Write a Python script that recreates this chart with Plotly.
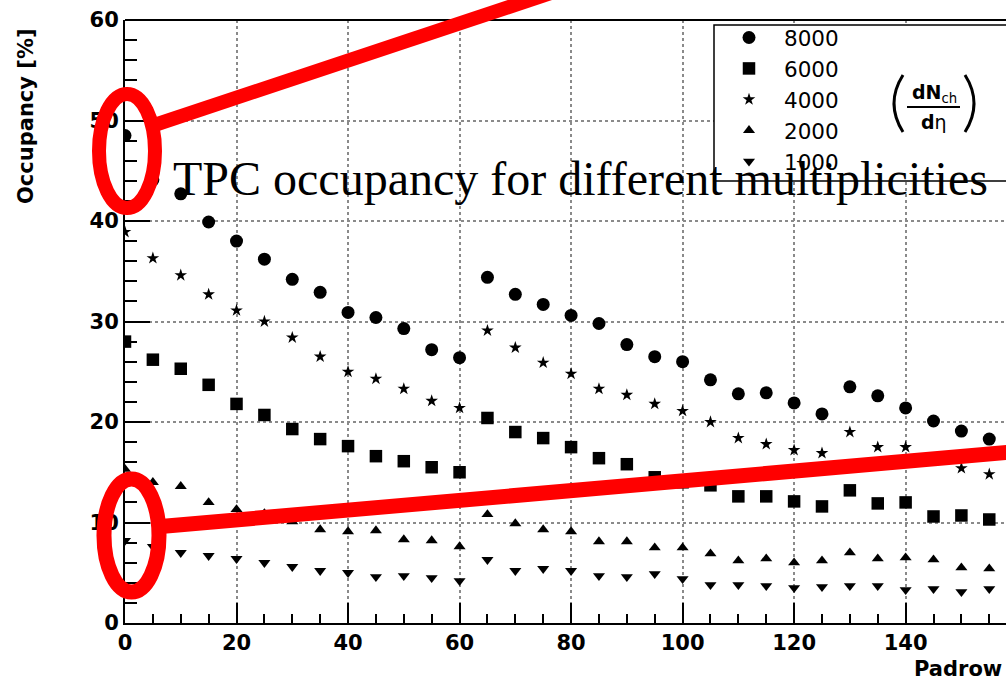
import plotly.graph_objects as go

# ---------------- data ----------------
padrow = list(range(0, 160, 5))

occ_8000 = [48.5, 44.1, 42.7, 39.9, 38.0, 36.2, 34.2, 32.9, 30.9, 30.4, 29.3, 27.2, 26.4,
            34.4, 32.7, 31.7, 30.6, 29.8, 27.7, 26.5, 26.0, 24.2, 22.8, 22.9, 21.9, 20.8,
            23.5, 22.6, 21.4, 20.1, 19.1, 18.3]
occ_6000 = [28.0, 26.2, 25.3, 23.7, 21.8, 20.7, 19.3, 18.3, 17.6, 16.6, 16.1, 15.5, 15.0,
            20.4, 19.0, 18.4, 17.5, 16.4, 15.8, 14.5, 14.0, 13.7, 12.6, 12.6, 12.1, 11.6,
            13.2, 11.9, 12.0, 10.6, 10.7, 10.3]
occ_4000 = [38.9, 36.3, 34.6, 32.7, 31.1, 30.0, 28.4, 26.5, 25.0, 24.3, 23.3, 22.1, 21.4,
            29.1, 27.4, 25.9, 24.8, 23.3, 22.7, 21.8, 21.1, 20.0, 18.4, 17.8, 17.2, 16.9,
            19.0, 17.5, 17.5, 16.3, 15.4, 14.8]
occ_2000 = [15.3, 14.0, 13.6, 12.0, 11.3, 10.9, 10.1, 9.3, 9.1, 9.2, 8.3, 8.2, 7.6,
            10.8, 9.9, 9.3, 9.1, 8.1, 8.1, 7.5, 7.5, 6.9, 6.2, 6.4, 6.0, 6.2,
            7.0, 6.4, 6.5, 6.3, 5.5, 5.4]
occ_1000 = [8.2, 7.6, 7.0, 6.7, 6.4, 6.0, 5.6, 5.2, 5.0, 4.6, 4.7, 4.5, 4.2,
            6.3, 5.2, 5.4, 5.2, 4.7, 4.6, 4.9, 4.4, 3.8, 3.8, 3.7, 3.5, 3.6,
            3.7, 3.7, 3.3, 3.4, 3.1, 3.4]

series_names = ["8000", "6000", "4000", "2000", "1000"]
series_values = [occ_8000, occ_6000, occ_4000, occ_2000, occ_1000]
series_symbols = ["circle", "square", "star", "triangle-up", "triangle-down"]
series_sizes = [13, 12.5, 9.5, 10.5, 10.5]

x_ticks = [0, 20, 40, 60, 80, 100, 120, 140]
y_ticks = [0, 10, 20, 30, 40, 50, 60]

title_text = "TPC occupancy for different multiplicities"
x_title = "Padrow"
y_title = "Occupancy [%]"

# ---------------- layout geometry ----------------
W, H = 1006, 684
L, T, R, B = 125, 20, 0, 61
PW = W - L - R
PH = H - T - B


def px(x):
    return (x - L) / PW


def py(y):
    return (H - B - y) / PH


fig = go.Figure()
for name, vals, sym, sz in zip(series_names, series_values, series_symbols, series_sizes):
    fig.add_trace(go.Scatter(
        x=padrow, y=vals, mode="markers", name=name,
        marker=dict(symbol=sym, size=sz, color="black", line=dict(width=0)),
    ))

tickfont = dict(family="DejaVu Sans", size=21, color="black", weight="bold")
grid = dict(showgrid=True, gridcolor="#8a8a8a", gridwidth=1.5, griddash="dot")

fig.update_xaxes(
    range=[0, 158], tickvals=x_ticks, ticks="inside", ticklen=20, tickwidth=1.5,
    tickcolor="black", showline=True, linecolor="black", linewidth=2,
    tickfont=tickfont, zeroline=False,
    minor=dict(dtick=5, ticks="inside", ticklen=9, tickwidth=1.5, tickcolor="black", showgrid=False),
    **grid,
)
fig.update_yaxes(
    range=[0, 60], tickvals=y_ticks, ticks="inside", ticklen=25, tickwidth=1.5,
    tickcolor="black", showline=True, linecolor="black", linewidth=2,
    tickfont=tickfont, zeroline=False,
    minor=dict(dtick=2, ticks="inside", ticklen=12, tickwidth=1.5, tickcolor="black", showgrid=False),
    **grid,
)

red = "#ff0000"
shapes = [
    # top frame
    dict(type="line", xref="paper", yref="paper", x0=0, x1=1, y0=1, y1=1,
         line=dict(color="black", width=2)),
    # legend box
    dict(type="rect", xref="paper", yref="paper", x0=px(714), x1=px(1015), y0=py(181), y1=py(25),
         line=dict(color="black", width=1.5), fillcolor="white", layer="above"),
    # fraction bar
    dict(type="line", xref="paper", yref="paper", x0=px(907), x1=px(960), y0=py(107), y1=py(107),
         line=dict(color="black", width=2)),
    # parentheses
    dict(type="path", xref="paper", yref="paper",
         path=f"M {px(903)},{py(75)} Q {px(885)},{py(103.5)} {px(903)},{py(132)}",
         line=dict(color="black", width=3)),
    dict(type="path", xref="paper", yref="paper",
         path=f"M {px(965)},{py(75)} Q {px(983)},{py(103.5)} {px(965)},{py(132)}",
         line=dict(color="black", width=3)),
    # red highlights
    dict(type="circle", xref="paper", yref="paper", x0=px(99), x1=px(155), y0=py(208), y1=py(94),
         line=dict(color=red, width=14), layer="above"),
    dict(type="circle", xref="paper", yref="paper", x0=px(104), x1=px(159), y0=py(592), y1=py(479),
         line=dict(color=red, width=15), layer="above"),
    dict(type="line", xref="paper", yref="paper", x0=px(150), x1=px(620), y0=py(126.5), y1=py(-30),
         line=dict(color=red, width=14), layer="above"),
    dict(type="line", xref="paper", yref="paper", x0=px(155), x1=px(1012), y0=py(527), y1=py(452),
         line=dict(color=red, width=15), layer="above"),
]

annotations = [
    dict(text=title_text, xref="paper", yref="paper", x=px(171), y=py(178),
         xanchor="left", yanchor="middle", showarrow=False,
         font=dict(family="Liberation Serif", size=48, color="black")),
    dict(text=y_title, xref="paper", yref="paper", x=px(26), y=py(116),
         xanchor="center", yanchor="middle", textangle=-90, showarrow=False,
         font=dict(family="DejaVu Sans", size=21, color="black", weight="bold")),
    dict(text=x_title, xref="paper", yref="paper", x=px(1004), y=py(669),
         xanchor="right", yanchor="middle", showarrow=False,
         font=dict(family="DejaVu Sans", size=21, color="black", weight="bold")),
    dict(text="<b>dN</b><sub>ch</sub>", xref="paper", yref="paper", x=px(934), y=py(93),
         xanchor="center", yanchor="middle", showarrow=False,
         font=dict(family="DejaVu Sans", size=19, color="black")),
    dict(text="<b>d</b>η", xref="paper", yref="paper", x=px(934), y=py(122),
         xanchor="center", yanchor="middle", showarrow=False,
         font=dict(family="DejaVu Sans", size=19, color="black")),
]

fig.update_layout(
    width=W, height=H,
    margin=dict(l=L, r=R, t=T, b=B, pad=0),
    paper_bgcolor="white", plot_bgcolor="white",
    shapes=shapes, annotations=annotations,
    showlegend=True,
    legend=dict(x=px(714), y=py(17), xanchor="left", yanchor="top",
                bgcolor="rgba(0,0,0,0)", borderwidth=0, itemwidth=60,
                font=dict(family="DejaVu Sans", size=21.5, color="black"),
                tracegroupgap=0),
)

fig.write_html("out.html")
